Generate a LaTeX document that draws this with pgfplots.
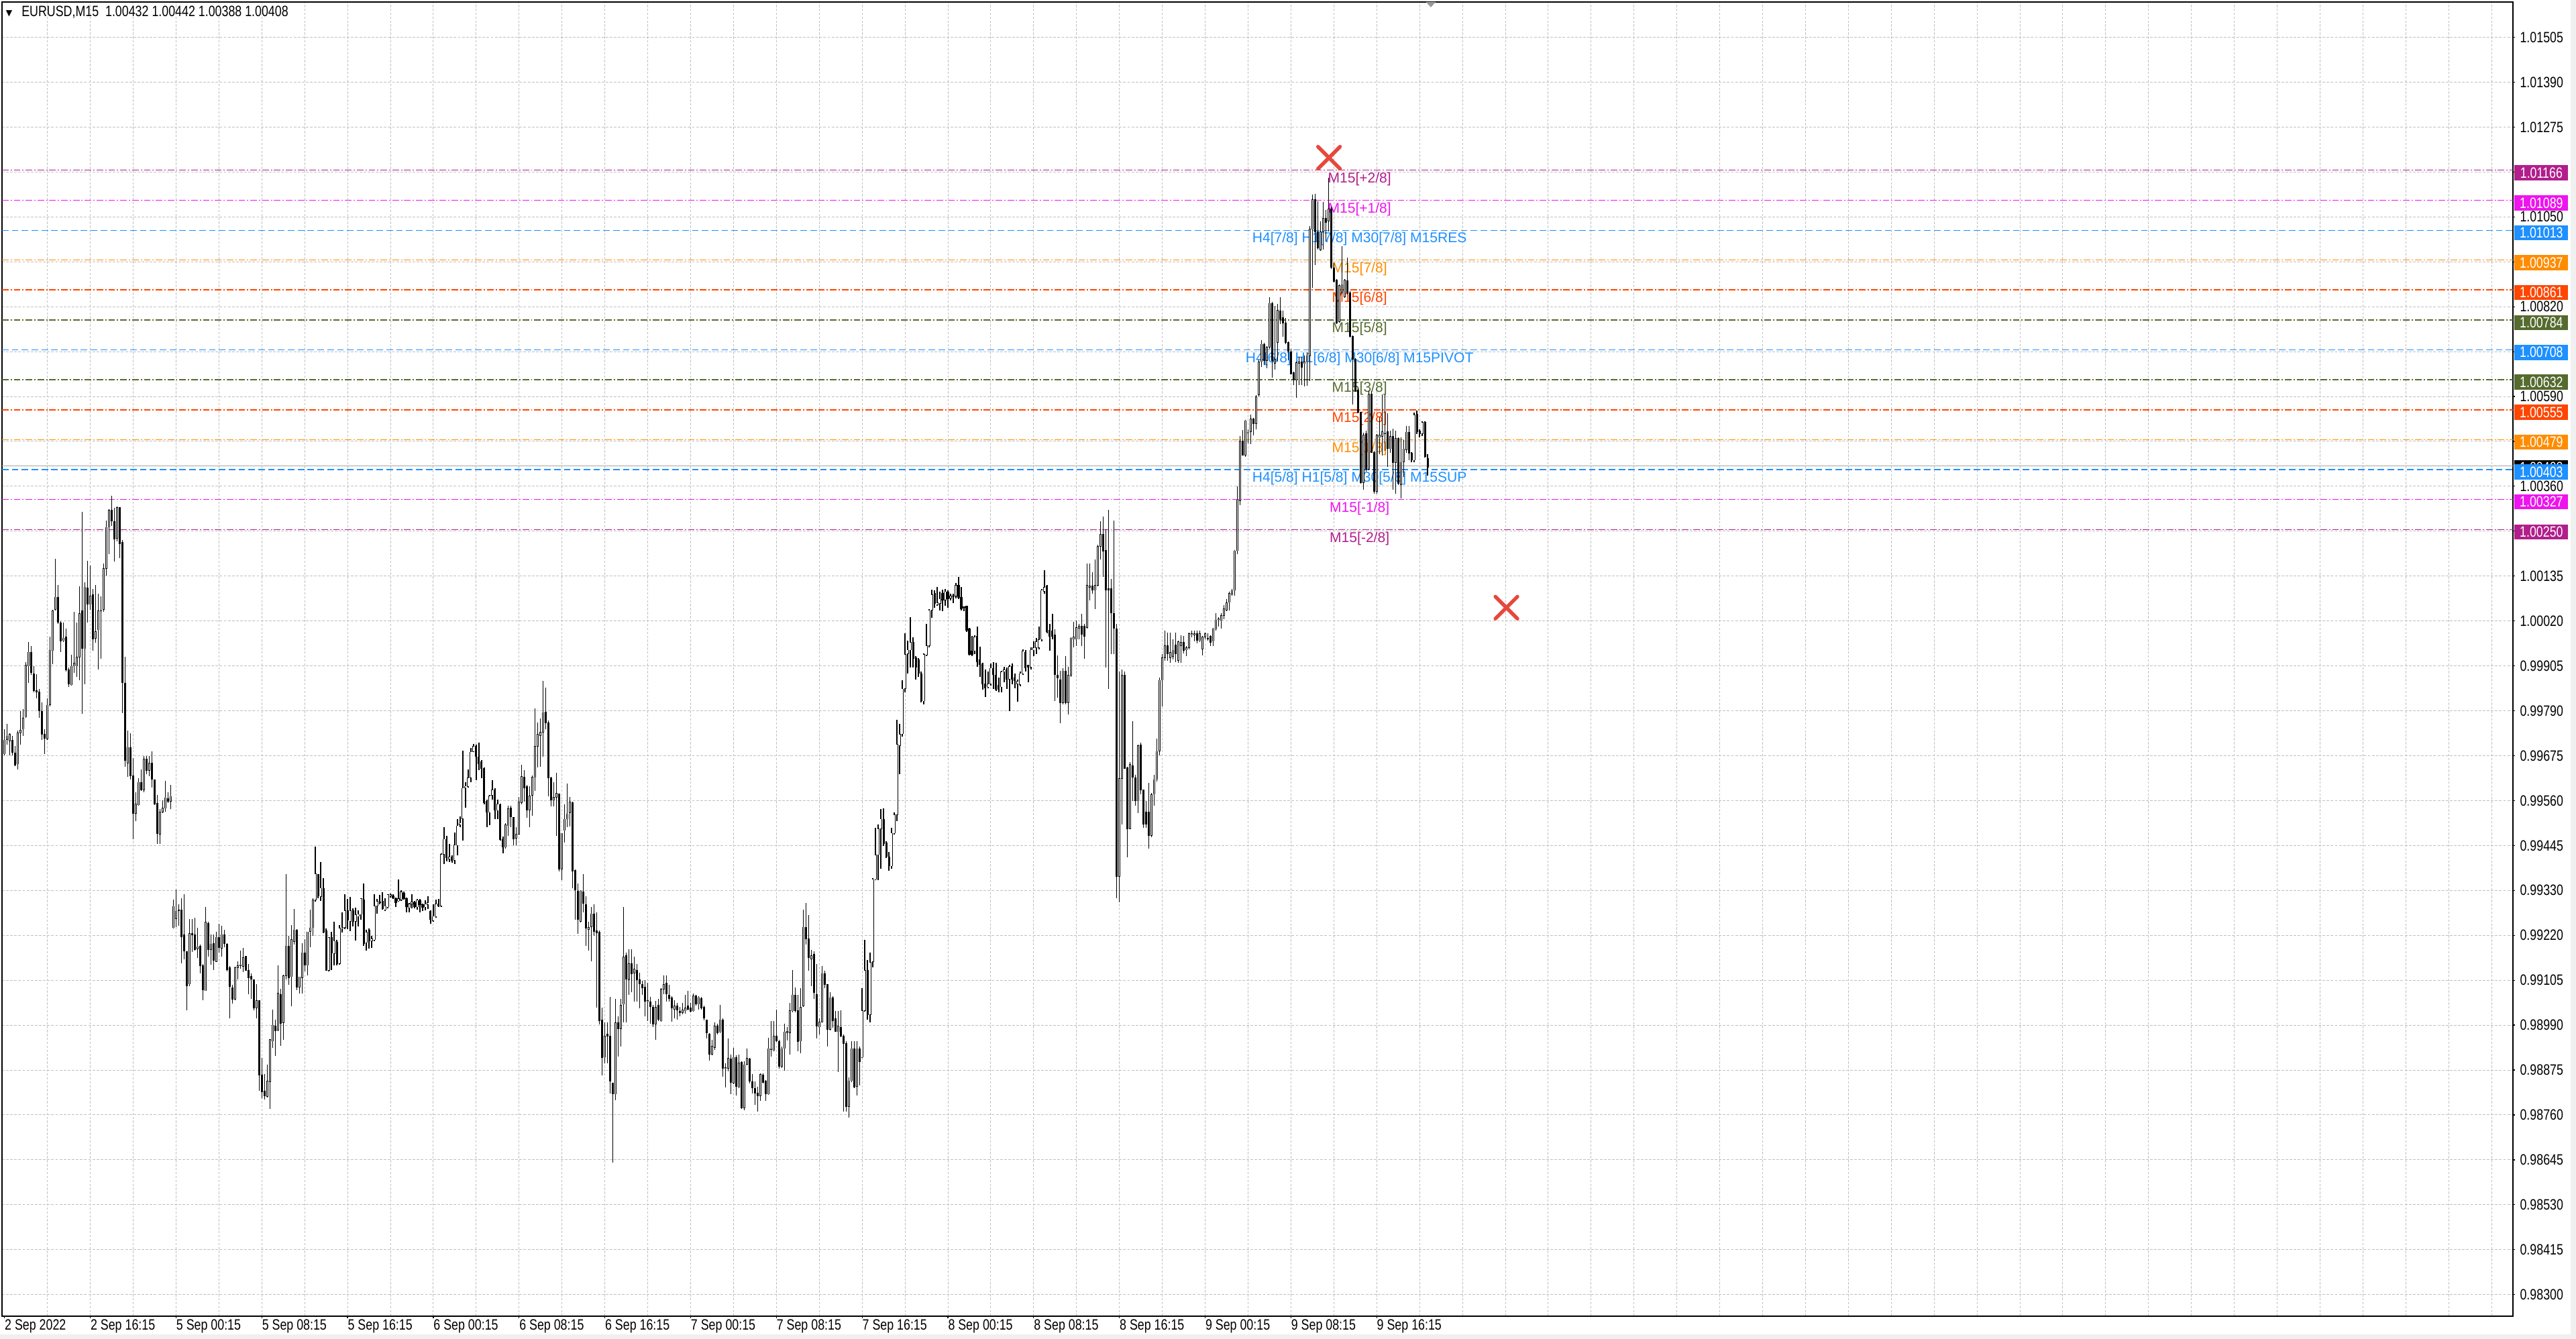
\documentclass[border=0pt]{standalone}
\usepackage{fontspec}
\setmainfont{Liberation Sans}
\newfontfamily\tickfont[FakeStretch=0.8]{Liberation Sans}
\newfontfamily\dejavu{DejaVu Sans}
\usepackage{pgfplots}
\pgfplotsset{compat=1.18}
\usepackage{pgfplotstable}

\definecolor{lvPurple}{RGB}{178,30,140}
\definecolor{lvMagenta}{RGB}{238,20,238}
\definecolor{lvBlue}{RGB}{30,144,255}
\definecolor{lvOrange}{RGB}{255,140,0}
\definecolor{lvRed}{RGB}{255,69,0}
\definecolor{lvOlive}{RGB}{85,107,47}
\definecolor{xred}{RGB}{230,72,60}
\definecolor{gridgray}{RGB}{192,192,192}

\pgfplotstableread{
o h l c
0.99678 0.99741 0.99675 0.99714
0.99714 0.99754 0.99701 0.99724
0.99711 0.99731 0.99675 0.99728
0.99714 0.99724 0.99675 0.99681
0.99681 0.99698 0.99647 0.99649
0.99652 0.99737 0.99639 0.99732
0.99732 0.99787 0.99701 0.99739
0.99741 0.99793 0.99724 0.99770
0.99772 0.99912 0.99770 0.99905
0.99902 0.99964 0.99859 0.99938
0.99937 0.99954 0.99879 0.99885
0.99882 0.99902 0.99836 0.99839
0.99839 0.99882 0.99820 0.99836
0.99837 0.99843 0.99770 0.99787
0.99787 0.99810 0.99714 0.99728
0.99728 0.99741 0.99678 0.99718
0.99716 0.99820 0.99714 0.99803
0.99804 0.99977 0.99800 0.99943
0.99941 1.00046 0.99907 1.00043
1.00046 1.00176 1.00043 1.00078
1.00077 1.00109 1.00010 1.00013
1.00013 1.00017 0.99938 0.99966
0.99967 1.00013 0.99964 0.99974
0.99977 0.99997 0.99889 0.99892
0.99892 0.99898 0.99849 0.99856
0.99854 0.99931 0.99852 0.99902
0.99902 1.00040 0.99885 0.99910
0.99902 1.00013 0.99875 0.99925
0.99925 1.00105 0.99866 1.00036
1.00043 1.00296 0.99780 0.99946
0.99946 1.00115 0.99856 1.00104
1.00102 1.00171 1.00013 1.00059
1.00059 1.00158 1.00046 1.00081
1.00084 1.00099 0.99941 0.99971
0.99973 1.00109 0.99961 0.99990
0.99994 1.00086 0.99894 1.00043
1.00043 1.00079 0.99921 1.00044
1.00046 1.00164 1.00040 1.00151
1.00151 1.00273 1.00133 1.00256
1.00256 1.00302 1.00187 1.00299
1.00299 1.00337 1.00260 1.00271
1.00271 1.00306 1.00168 1.00225
1.00227 1.00309 1.00220 1.00306
1.00306 1.00306 1.00178 1.00214
1.00217 1.00224 0.99783 0.99859
0.99859 0.99925 0.99645 0.99662
0.99655 0.99737 0.99619 0.99695
0.99695 0.99731 0.99613 0.99622
0.99622 0.99668 0.99461 0.99527
0.99527 0.99580 0.99507 0.99550
0.99548 0.99616 0.99547 0.99606
0.99606 0.99639 0.99583 0.99586
0.99586 0.99672 0.99580 0.99665
0.99665 0.99672 0.99626 0.99636
0.99636 0.99672 0.99622 0.99655
0.99655 0.99685 0.99593 0.99613
0.99613 0.99613 0.99548 0.99550
0.99553 0.99573 0.99448 0.99475
0.99473 0.99537 0.99448 0.99530
0.99530 0.99560 0.99527 0.99540
0.99539 0.99609 0.99530 0.99567
0.99565 0.99580 0.99553 0.99557
0.99557 0.99599 0.99537 0.99570
0.99235 0.99306 0.99234 0.99290
0.99258 0.99332 0.99237 0.99278
0.99281 0.99294 0.99240 0.99279
0.99281 0.99311 0.99145 0.99212
0.99218 0.99320 0.99154 0.99176
0.99175 0.99175 0.99024 0.99087
0.99091 0.99258 0.99087 0.99221
0.99221 0.99258 0.99173 0.99217
0.99217 0.99261 0.99176 0.99179
0.99181 0.99235 0.99158 0.99187
0.99189 0.99192 0.99118 0.99138
0.99139 0.99143 0.99051 0.99076
0.99074 0.99288 0.99074 0.99250
0.99247 0.99251 0.99162 0.99179
0.99179 0.99218 0.99141 0.99194
0.99195 0.99218 0.99127 0.99152
0.99149 0.99225 0.99148 0.99211
0.99211 0.99245 0.99171 0.99185
0.99183 0.99240 0.99162 0.99218
0.99217 0.99229 0.99185 0.99194
0.99194 0.99196 0.99123 0.99127
0.99133 0.99137 0.99004 0.99085
0.99083 0.99089 0.99041 0.99053
0.99053 0.99135 0.99051 0.99133
0.99133 0.99150 0.99104 0.99138
0.99138 0.99176 0.99131 0.99141
0.99137 0.99183 0.99122 0.99159
0.99162 0.99162 0.99125 0.99126
0.99127 0.99142 0.99066 0.99108
0.99111 0.99118 0.99053 0.99103
0.99102 0.99102 0.99024 0.99030
0.99030 0.99091 0.99004 0.99050
0.99049 0.99050 0.98819 0.98860
0.98860 0.98903 0.98800 0.98817
0.98819 0.98863 0.98797 0.98807
0.98805 0.98886 0.98803 0.98844
0.98842 0.98950 0.98774 0.98950
0.98946 0.99027 0.98928 0.98987
0.98985 0.99001 0.98909 0.98972
0.98974 0.99139 0.98972 0.99068
0.99066 0.99079 0.98934 0.98991
0.98993 0.99115 0.98949 0.99113
0.99112 0.99372 0.99103 0.99189
0.99188 0.99214 0.99090 0.99108
0.99110 0.99242 0.99035 0.99205
0.99200 0.99283 0.99192 0.99230
0.99229 0.99231 0.99076 0.99084
0.99084 0.99110 0.99067 0.99110
0.99108 0.99196 0.99067 0.99172
0.99171 0.99206 0.99123 0.99139
0.99139 0.99225 0.99113 0.99225
0.99225 0.99281 0.99185 0.99235
0.99235 0.99311 0.99215 0.99306
0.99306 0.99442 0.99302 0.99373
0.99372 0.99372 0.99310 0.99315
0.99314 0.99403 0.99304 0.99336
0.99335 0.99361 0.99221 0.99224
0.99227 0.99234 0.99125 0.99126
0.99126 0.99210 0.99123 0.99210
0.99210 0.99224 0.99128 0.99171
0.99169 0.99251 0.99140 0.99201
0.99199 0.99204 0.99140 0.99143
0.99143 0.99242 0.99141 0.99234
0.99233 0.99275 0.99223 0.99236
0.99236 0.99321 0.99232 0.99279
0.99279 0.99309 0.99232 0.99254
0.99251 0.99314 0.99227 0.99279
0.99279 0.99284 0.99238 0.99251
0.99251 0.99286 0.99202 0.99268
0.99264 0.99279 0.99238 0.99269
0.99269 0.99311 0.99256 0.99309
0.99306 0.99348 0.99189 0.99195
0.99197 0.99229 0.99177 0.99224
0.99230 0.99234 0.99182 0.99202
0.99202 0.99214 0.99184 0.99207
0.99204 0.99320 0.99201 0.99291
0.99290 0.99309 0.99271 0.99303
0.99301 0.99318 0.99294 0.99299
0.99303 0.99326 0.99281 0.99284
0.99281 0.99311 0.99277 0.99290
0.99288 0.99321 0.99284 0.99320
0.99316 0.99323 0.99312 0.99320
0.99317 0.99321 0.99309 0.99311
0.99309 0.99312 0.99288 0.99299
0.99303 0.99358 0.99301 0.99310
0.99306 0.99331 0.99303 0.99326
0.99323 0.99327 0.99306 0.99309
0.99309 0.99312 0.99274 0.99288
0.99286 0.99299 0.99275 0.99296
0.99296 0.99321 0.99284 0.99301
0.99299 0.99303 0.99284 0.99288
0.99288 0.99309 0.99281 0.99305
0.99305 0.99309 0.99275 0.99294
0.99294 0.99296 0.99277 0.99286
0.99288 0.99305 0.99279 0.99295
0.99294 0.99316 0.99283 0.99299
0.99277 0.99279 0.99245 0.99256
0.99253 0.99294 0.99251 0.99264
0.99264 0.99306 0.99260 0.99296
0.99296 0.99309 0.99288 0.99290
0.99290 0.99425 0.99288 0.99422
0.99422 0.99491 0.99398 0.99461
0.99461 0.99470 0.99405 0.99413
0.99410 0.99448 0.99403 0.99415
0.99415 0.99420 0.99401 0.99407
0.99407 0.99477 0.99398 0.99446
0.99445 0.99512 0.99420 0.99495
0.99497 0.99519 0.99492 0.99502
0.99513 0.99686 0.99457 0.99591
0.99591 0.99606 0.99541 0.99596
0.99595 0.99638 0.99593 0.99617
0.99617 0.99693 0.99606 0.99683
0.99684 0.99703 0.99683 0.99698
0.99698 0.99701 0.99611 0.99671
0.99671 0.99707 0.99636 0.99653
0.99658 0.99662 0.99616 0.99640
0.99641 0.99643 0.99549 0.99554
0.99558 0.99561 0.99491 0.99529
0.99529 0.99574 0.99497 0.99571
0.99573 0.99611 0.99561 0.99586
0.99586 0.99591 0.99512 0.99535
0.99534 0.99561 0.99512 0.99550
0.99549 0.99552 0.99457 0.99460
0.99461 0.99468 0.99424 0.99440
0.99440 0.99502 0.99437 0.99497
0.99495 0.99547 0.99469 0.99539
0.99541 0.99547 0.99492 0.99517
0.99517 0.99517 0.99445 0.99461
0.99463 0.99491 0.99445 0.99474
0.99474 0.99569 0.99472 0.99556
0.99554 0.99651 0.99549 0.99621
0.99619 0.99636 0.99556 0.99591
0.99595 0.99599 0.99515 0.99535
0.99535 0.99595 0.99492 0.99571
0.99573 0.99623 0.99521 0.99619
0.99618 0.99794 0.99584 0.99698
0.99697 0.99758 0.99644 0.99728
0.99725 0.99768 0.99646 0.99733
0.99733 0.99865 0.99671 0.99784
0.99785 0.99848 0.99741 0.99757
0.99757 0.99764 0.99570 0.99617
0.99617 0.99620 0.99544 0.99560
0.99560 0.99606 0.99544 0.99568
0.99568 0.99630 0.99470 0.99578
0.99576 0.99576 0.99379 0.99385
0.99385 0.99476 0.99357 0.99476
0.99483 0.99549 0.99452 0.99512
0.99512 0.99602 0.99492 0.99526
0.99528 0.99569 0.99494 0.99556
0.99554 0.99556 0.99335 0.99379
0.99381 0.99383 0.99256 0.99331
0.99329 0.99348 0.99219 0.99256
0.99251 0.99331 0.99249 0.99329
0.99327 0.99372 0.99275 0.99297
0.99294 0.99316 0.99189 0.99234
0.99230 0.99251 0.99177 0.99236
0.99237 0.99288 0.99149 0.99271
0.99271 0.99295 0.99215 0.99226
0.99228 0.99275 0.99031 0.99221
0.99224 0.99228 0.98989 0.98997
0.99001 0.99031 0.98858 0.98903
0.98905 0.98993 0.98890 0.98959
0.98965 0.98993 0.98890 0.98959
0.98959 0.99059 0.98813 0.98843
0.98839 0.98839 0.98636 0.98811
0.98811 0.99053 0.98796 0.98993
0.98993 0.99010 0.98907 0.98978
0.98978 0.99053 0.98933 0.99038
0.99040 0.99288 0.98993 0.99161
0.99164 0.99172 0.98993 0.99104
0.99102 0.99181 0.99064 0.99144
0.99143 0.99181 0.99070 0.99117
0.99119 0.99161 0.99047 0.99130
0.99127 0.99143 0.99047 0.99102
0.99102 0.99121 0.99030 0.99091
0.99091 0.99100 0.99064 0.99081
0.99084 0.99102 0.99010 0.99047
0.99047 0.99095 0.98997 0.99050
0.99047 0.99059 0.98990 0.99033
0.99033 0.99038 0.98982 0.98989
0.98989 0.99049 0.98950 0.99033
0.99038 0.99053 0.98997 0.99001
0.98997 0.99081 0.98995 0.99078
0.99078 0.99113 0.99066 0.99091
0.99095 0.99113 0.99047 0.99067
0.99064 0.99089 0.99047 0.99055
0.99057 0.99061 0.98995 0.99030
0.99027 0.99050 0.99004 0.99036
0.99036 0.99044 0.99001 0.99025
0.99023 0.99033 0.99010 0.99019
0.99019 0.99044 0.99014 0.99025
0.99023 0.99064 0.99016 0.99031
0.99036 0.99074 0.99025 0.99027
0.99031 0.99044 0.99019 0.99021
0.99023 0.99067 0.99021 0.99061
0.99061 0.99064 0.99036 0.99040
0.99040 0.99061 0.99027 0.99057
0.99055 0.99059 0.99027 0.99030
0.99033 0.99036 0.98999 0.99004
0.99001 0.99001 0.98953 0.98967
0.98965 0.98967 0.98896 0.98913
0.98913 0.98950 0.98910 0.98933
0.98930 0.98993 0.98924 0.98984
0.98984 0.98990 0.98963 0.98967
0.98970 0.99038 0.98967 0.99001
0.99001 0.99004 0.98856 0.98876
0.98876 0.98890 0.98828 0.98879
0.98876 0.98953 0.98869 0.98903
0.98901 0.98911 0.98811 0.98841
0.98839 0.98929 0.98836 0.98905
0.98905 0.98910 0.98807 0.98830
0.98828 0.98911 0.98826 0.98890
0.98893 0.98894 0.98773 0.98776
0.98776 0.98894 0.98770 0.98886
0.98887 0.98927 0.98884 0.98903
0.98901 0.98903 0.98839 0.98843
0.98843 0.98862 0.98813 0.98826
0.98826 0.98843 0.98783 0.98813
0.98813 0.98830 0.98766 0.98807
0.98807 0.98864 0.98793 0.98862
0.98860 0.98864 0.98839 0.98841
0.98845 0.98847 0.98793 0.98811
0.98811 0.98954 0.98809 0.98927
0.98924 0.98997 0.98907 0.98927
0.98922 0.98997 0.98920 0.98959
0.98959 0.99027 0.98944 0.98947
0.98946 0.98950 0.98876 0.98882
0.98882 0.98933 0.98877 0.98927
0.98927 0.98990 0.98870 0.98970
0.98967 0.98982 0.98947 0.98971
0.98967 0.99044 0.98911 0.99024
0.99023 0.99127 0.99019 0.99064
0.99064 0.99083 0.99019 0.99023
0.99024 0.99064 0.98920 0.98944
0.98946 0.99081 0.98916 0.99033
0.99036 0.99281 0.99033 0.99237
0.99237 0.99298 0.99192 0.99207
0.99207 0.99267 0.99125 0.99158
0.99155 0.99178 0.99087 0.99164
0.99167 0.99175 0.99053 0.99070
0.99066 0.99143 0.98953 0.98984
0.98982 0.99004 0.98963 0.98995
0.98995 0.99138 0.98993 0.99119
0.99119 0.99125 0.99081 0.99090
0.99090 0.99091 0.98933 0.98976
0.98976 0.99070 0.98973 0.99057
0.99057 0.99061 0.98980 0.98997
0.99004 0.99023 0.98970 0.98970
0.98970 0.99023 0.98867 0.98984
0.98982 0.99024 0.98956 0.98959
0.98959 0.98963 0.98766 0.98939
0.98941 0.98946 0.98766 0.98779
0.98779 0.98853 0.98751 0.98845
0.98845 0.98946 0.98841 0.98927
0.98927 0.98946 0.98826 0.98828
0.98830 0.98946 0.98807 0.98927
0.98927 0.98933 0.98833 0.98894
0.98905 0.99081 0.98903 0.99024
0.99024 0.99204 0.99021 0.99127
0.99127 0.99153 0.99001 0.99013
0.99013 0.99172 0.98993 0.99147
0.99149 0.99361 0.99134 0.99358
0.99358 0.99489 0.99356 0.99421
0.99421 0.99498 0.99356 0.99487
0.99487 0.99538 0.99386 0.99512
0.99512 0.99540 0.99444 0.99449
0.99451 0.99455 0.99412 0.99416
0.99416 0.99429 0.99380 0.99392
0.99392 0.99489 0.99386 0.99476
0.99476 0.99529 0.99472 0.99523
0.99523 0.99765 0.99506 0.99703
0.99699 0.99754 0.99626 0.99729
0.99729 0.99866 0.99723 0.99844
0.99844 0.99985 0.99835 0.99932
0.99934 0.99967 0.99883 0.99943
0.99943 1.00026 0.99899 0.99963
0.99963 0.99976 0.99899 0.99921
0.99923 0.99927 0.99868 0.99899
0.99919 0.99923 0.99875 0.99883
0.99883 0.99888 0.99809 0.99813
0.99813 0.99934 0.99805 0.99932
0.99930 1.00009 0.99927 0.99954
0.99954 1.00048 0.99949 1.00044
1.00044 1.00097 1.00025 1.00084
1.00088 1.00095 1.00051 1.00062
1.00058 1.00103 1.00055 1.00064
1.00062 1.00092 1.00044 1.00073
1.00088 1.00097 1.00042 1.00070
1.00070 1.00099 1.00055 1.00092
1.00092 1.00095 1.00051 1.00073
1.00075 1.00086 1.00070 1.00081
1.00080 1.00086 1.00062 1.00081
1.00081 1.00114 1.00075 1.00108
1.00108 1.00130 1.00073 1.00077
1.00077 1.00103 1.00044 1.00048
1.00053 1.00053 1.00042 1.00051
1.00055 1.00055 0.99989 0.99993
0.99998 1.00000 0.99930 0.99932
0.99941 0.99978 0.99927 0.99932
0.99941 0.99981 0.99932 0.99976
0.99978 1.00003 0.99901 0.99912
0.99919 0.99952 0.99875 0.99905
0.99908 0.99910 0.99842 0.99857
0.99857 0.99893 0.99824 0.99846
0.99849 0.99888 0.99846 0.99857
0.99857 0.99908 0.99853 0.99897
0.99897 0.99912 0.99844 0.99880
0.99880 0.99910 0.99838 0.99842
0.99853 0.99872 0.99835 0.99842
0.99849 0.99890 0.99835 0.99888
0.99888 0.99901 0.99861 0.99893
0.99893 0.99899 0.99844 0.99868
0.99868 0.99905 0.99787 0.99901
0.99901 0.99908 0.99855 0.99868
0.99872 0.99883 0.99846 0.99864
0.99857 0.99868 0.99811 0.99864
0.99855 0.99888 0.99850 0.99883
0.99883 0.99945 0.99880 0.99941
0.99937 0.99943 0.99888 0.99897
0.99905 0.99905 0.99861 0.99899
0.99899 0.99949 0.99893 0.99943
0.99943 0.99965 0.99927 0.99949
0.99949 0.99974 0.99932 0.99965
0.99949 1.00003 0.99945 0.99970
0.99970 1.00099 0.99965 1.00095
1.00092 1.00147 1.00086 1.00103
1.00106 1.00108 0.99985 0.99989
0.99993 1.00009 0.99941 0.99978
0.99992 1.00036 0.99970 0.99978
0.99981 0.99996 0.99813 0.99880
0.99880 0.99930 0.99822 0.99872
0.99868 0.99890 0.99756 0.99809
0.99809 0.99897 0.99805 0.99890
0.99890 0.99927 0.99805 0.99809
0.99809 0.99901 0.99778 0.99879
0.99879 0.99976 0.99875 0.99974
0.99970 1.00015 0.99949 0.99976
0.99970 1.00018 0.99954 1.00000
0.99998 1.00009 0.99970 1.00004
1.00004 1.00036 0.99954 0.99982
1.00004 1.00009 0.99921 0.99978
1.00000 1.00163 0.99998 1.00108
1.00103 1.00163 1.00070 1.00106
1.00106 1.00141 1.00086 1.00095
1.00095 1.00174 1.00048 1.00108
1.00108 1.00212 1.00106 1.00207
1.00207 1.00271 1.00174 1.00238
1.00238 1.00284 1.00130 1.00194
1.00198 1.00251 0.99899 1.00095
1.00099 1.00301 0.99844 1.00095
1.00099 1.00125 0.99932 1.00037
1.00037 1.00273 0.99932 0.99998
0.99998 1.00009 0.99311 0.99366
0.99366 0.99888 0.99300 0.99615
0.99615 0.99894 0.99498 0.99879
0.99879 0.99888 0.99641 0.99641
0.99644 0.99646 0.99415 0.99487
0.99487 0.99657 0.99487 0.99652
0.99648 0.99762 0.99558 0.99618
0.99618 0.99624 0.99547 0.99558
0.99558 0.99701 0.99527 0.99699
0.99701 0.99707 0.99575 0.99586
0.99586 0.99586 0.99490 0.99498
0.99530 0.99558 0.99490 0.99498
0.99530 0.99604 0.99437 0.99470
0.99470 0.99578 0.99465 0.99575
0.99575 0.99624 0.99547 0.99613
0.99613 0.99718 0.99608 0.99685
0.99685 0.99872 0.99674 0.99866
0.99866 0.99932 0.99800 0.99923
0.99923 0.99993 0.99916 0.99954
0.99954 0.99987 0.99916 0.99934
0.99923 0.99987 0.99910 0.99937
0.99927 0.99970 0.99919 0.99943
0.99956 0.99987 0.99912 0.99934
0.99916 0.99967 0.99910 0.99965
0.99954 0.99981 0.99910 0.99963
0.99963 0.99978 0.99934 0.99941
0.99943 0.99954 0.99927 0.99949
0.99949 0.99987 0.99945 0.99985
0.99983 0.99993 0.99976 0.99985
0.99981 0.99993 0.99965 0.99985
0.99985 0.99993 0.99960 0.99967
0.99967 0.99993 0.99963 0.99985
0.99945 0.99978 0.99930 0.99976
0.99976 0.99987 0.99970 0.99985
0.99974 0.99985 0.99967 0.99970
0.99978 0.99981 0.99954 0.99963
0.99965 1.00000 0.99954 0.99998
0.99996 1.00037 0.99993 1.00020
1.00020 1.00026 1.00003 1.00022
1.00018 1.00037 0.99998 1.00031
1.00031 1.00058 1.00022 1.00048
1.00044 1.00073 1.00042 1.00064
1.00064 1.00092 1.00044 1.00088
1.00086 1.00099 1.00081 1.00095
1.00095 1.00198 1.00081 1.00196
1.00196 1.00361 1.00187 1.00326
1.00323 1.00488 1.00312 1.00476
1.00476 1.00504 1.00438 1.00440
1.00440 1.00530 1.00436 1.00528
1.00495 1.00506 1.00470 1.00499
1.00499 1.00543 1.00468 1.00532
1.00532 1.00534 1.00491 1.00520
1.00520 1.00592 1.00505 1.00589
1.00594 1.00684 1.00589 1.00678
1.00678 1.00733 1.00664 1.00723
1.00722 1.00726 1.00670 1.00681
1.00681 1.00717 1.00661 1.00715
1.00715 1.00842 1.00710 1.00827
1.00826 1.00830 1.00638 1.00681
1.00674 1.00820 1.00658 1.00684
1.00727 1.00826 1.00678 1.00809
1.00807 1.00842 1.00774 1.00786
1.00791 1.00808 1.00742 1.00777
1.00777 1.00790 1.00722 1.00727
1.00727 1.00730 1.00681 1.00704
1.00704 1.00710 1.00646 1.00647
1.00650 1.00652 1.00618 1.00632
1.00632 1.00678 1.00586 1.00676
1.00674 1.00690 1.00618 1.00677
1.00677 1.00690 1.00618 1.00664
1.00673 1.00694 1.00615 1.00678
1.00678 1.00703 1.00617 1.00694
1.00693 1.01023 1.00629 1.01016
1.01015 1.01104 1.00866 1.01091
1.01091 1.01106 1.00924 1.01008
1.01009 1.01087 1.00964 1.00967
1.00963 1.01036 1.00961 1.01009
1.01009 1.01085 1.00964 1.01044
1.01044 1.01065 1.00984 1.01033
1.01036 1.01146 1.01010 1.01068
1.01068 1.01074 1.00915 1.00918
1.00918 1.00930 1.00880 1.00883
1.00886 1.00889 1.00774 1.00777
1.00780 1.00875 1.00777 1.00873
1.00855 1.00973 1.00849 1.00875
1.00843 1.00889 1.00840 1.00886
1.00884 1.00944 1.00849 1.00854
1.00854 1.00857 1.00739 1.00742
1.00742 1.00745 1.00569 1.00684
1.00684 1.00687 1.00601 1.00603
1.00606 1.00609 1.00546 1.00549
1.00549 1.00549 1.00367 1.00370
1.00370 1.00497 1.00352 1.00491
1.00494 1.00502 1.00398 1.00404
1.00404 1.00603 1.00401 1.00595
1.00595 1.00603 1.00445 1.00447
1.00447 1.00450 1.00341 1.00347
1.00347 1.00494 1.00341 1.00491
1.00485 1.00537 1.00442 1.00491
1.00488 1.00595 1.00439 1.00500
1.00494 1.00595 1.00450 1.00497
1.00500 1.00546 1.00410 1.00456
1.00456 1.00502 1.00445 1.00488
1.00488 1.00508 1.00352 1.00421
1.00421 1.00502 1.00341 1.00482
1.00482 1.00485 1.00364 1.00367
1.00364 1.00485 1.00329 1.00422
1.00422 1.00479 1.00384 1.00456
1.00453 1.00514 1.00445 1.00499
1.00499 1.00514 1.00427 1.00445
1.00445 1.00447 1.00421 1.00427
1.00427 1.00548 1.00421 1.00543
1.00544 1.00554 1.00494 1.00499
1.00501 1.00505 1.00485 1.00494
1.00494 1.00526 1.00488 1.00523
1.00523 1.00526 1.00433 1.00436
1.00432 1.00442 1.00388 1.00408
}\bars

\tikzset{
  m15lvl/.style={line width=0.55pt, dash pattern=on 4pt off 1.2pt on 0.8pt off 1.2pt},
  bluelvl/.style={line width=0.6pt, dash pattern=on 4pt off 2pt, lvBlue},
  lvlbox/.style={anchor=west, text=white, inner sep=0pt, minimum width=32.6pt, minimum height=9.2pt,
     font=\tickfont\fontsize{9.1}{10}\selectfont, xshift=0.8pt, yshift=-1.5pt},
  lvltext/.style={anchor=north, inner sep=0pt, yshift=-1.2pt, font=\fontsize{8.6}{10}\selectfont},
}
\pgfplotsset{
  candlepart/.style={draw=none, no markers, forget plot,
    error bars/.cd, y dir=plus, y explicit, error mark=none},
}

\begin{document}
\begin{tikzpicture}[x=1pt,y=1pt]
\path[use as bounding box] (0,0) rectangle (1568,815);
\fill[white] (0,0) rectangle (1568,815);
\fill[black!6] (0,0) rectangle (1568,3);
\fill[black!6] (1564.8,0) rectangle (1568,815);
\begin{axis}[
  at={(1.2pt,13.9pt)}, anchor=south west,
  scale only axis, width=1528.4pt, height=799.9pt,
  xmin=-0.95, xmax=935.97, ymin=0.98245, ymax=1.01595,
  clip=false,
  axis line style={black, line width=0.8pt},
  xtick pos=bottom, ytick pos=right, yticklabel pos=right,
  tick align=outside, major tick length=1.4pt,
  tick style={black, line width=0.5pt},
  minor tick length=0pt,
  xtick={0,32,...,512},
  xticklabels={2 Sep 2022,2 Sep 16:15,5 Sep 00:15,5 Sep 08:15,5 Sep 16:15,6 Sep 00:15,6 Sep 08:15,6 Sep 16:15,7 Sep 00:15,7 Sep 08:15,7 Sep 16:15,8 Sep 00:15,8 Sep 08:15,8 Sep 16:15,9 Sep 00:15,9 Sep 08:15,9 Sep 16:15},
  minor xtick={16,32,...,928},
  ytick={0.983000,0.984145,0.985289,0.986434,0.987579,0.988723,0.989868,0.991012,0.992157,0.993302,0.994446,0.995591,0.996736,0.997880,0.999025,1.000170,1.001314,1.002459,1.003604,1.004748,1.005893,1.007037,1.008182,1.009327,1.010471,1.011616,1.012761,1.013905,1.015050},
  yticklabels={0.98300,0.98415,0.98530,0.98645,0.98760,0.98875,0.98990,0.99105,0.99220,0.99330,0.99445,0.99560,0.99675,0.99790,0.99905,1.00020,1.00135,{},1.00360,{},1.00590,{},1.00820,{},1.01050,{},1.01275,1.01390,1.01505},
  xmajorgrids=false, xminorgrids=true, ymajorgrids=true,
  major grid style={gridgray, line width=0.4pt, dash pattern=on 1.6pt off 0.9pt},
  minor grid style={gridgray, line width=0.4pt, dash pattern=on 1.4pt off 1.0pt},
  yticklabel style={font=\tickfont\fontsize{9.1}{10}\selectfont, anchor=west, inner sep=0pt, xshift=2.7pt},
  xticklabel style={font=\tickfont\fontsize{9.1}{10}\selectfont, anchor=north west, inner sep=0pt, yshift=-0.5pt},
]
% level lines
\addplot[m15lvl, lvPurple] coordinates {(-0.95,1.01166) (935.97,1.01166)};
\addplot[m15lvl, lvMagenta] coordinates {(-0.95,1.01089) (935.97,1.01089)};
\addplot[bluelvl] coordinates {(-0.95,1.01013) (935.97,1.01013)};
\addplot[m15lvl, lvOrange] coordinates {(-0.95,1.00937) (935.97,1.00937)};
\addplot[m15lvl, lvRed] coordinates {(-0.95,1.00861) (935.97,1.00861)};
\addplot[m15lvl, lvOlive] coordinates {(-0.95,1.00784) (935.97,1.00784)};
\addplot[bluelvl] coordinates {(-0.95,1.00708) (935.97,1.00708)};
\addplot[m15lvl, lvOlive] coordinates {(-0.95,1.00632) (935.97,1.00632)};
\addplot[m15lvl, lvRed] coordinates {(-0.95,1.00555) (935.97,1.00555)};
\addplot[m15lvl, lvOrange] coordinates {(-0.95,1.00479) (935.97,1.00479)};
\addplot[line width=0.4pt, black!35] coordinates {(-0.95,1.00412) (935.97,1.00412)};
\addplot[bluelvl] coordinates {(-0.95,1.00403) (935.97,1.00403)};
\addplot[m15lvl, lvMagenta] coordinates {(-0.95,1.00327) (935.97,1.00327)};
\addplot[m15lvl, lvPurple] coordinates {(-0.95,1.00250) (935.97,1.00250)};

% level texts
\node[lvltext, text=lvPurple] at (axis cs:505.6,1.01166) {M15[+2/8]};
\node[lvltext, text=lvMagenta] at (axis cs:505.6,1.01089) {M15[+1/8]};
\node[lvltext, text=lvBlue] at (axis cs:505.6,1.01013) {H4[7/8] H1[7/8] M30[7/8] M15RES};
\node[lvltext, text=lvOrange] at (axis cs:505.6,1.00937) {M15[7/8]};
\node[lvltext, text=lvRed] at (axis cs:505.6,1.00861) {M15[6/8]};
\node[lvltext, text=lvOlive] at (axis cs:505.6,1.00784) {M15[5/8]};
\node[lvltext, text=lvBlue] at (axis cs:505.6,1.00708) {H4[6/8] H1[6/8] M30[6/8] M15PIVOT};
\node[lvltext, text=lvOlive] at (axis cs:505.6,1.00632) {M15[3/8]};
\node[lvltext, text=lvRed] at (axis cs:505.6,1.00555) {M15[2/8]};
\node[lvltext, text=lvOrange] at (axis cs:505.6,1.00479) {M15[1/8]};
\node[lvltext, text=lvBlue] at (axis cs:505.6,1.00403) {H4[5/8] H1[5/8] M30[5/8] M15SUP};
\node[lvltext, text=lvMagenta] at (axis cs:505.6,1.00327) {M15[-1/8]};
\node[lvltext, text=lvPurple] at (axis cs:505.6,1.00250) {M15[-2/8]};

% candles: wicks, bodies, white fill of rising bars
\addplot[candlepart, error bar style={draw=black, line width=0.55pt}]
  table[x expr=\coordindex, y=l, y error expr=\thisrow{h}-\thisrow{l}] {\bars};
\addplot[candlepart, error bar style={draw=black, line width=1.25pt}]
  table[x expr=\coordindex, y expr={min(\thisrow{o},\thisrow{c})-0.000005},
        y error expr={abs(\thisrow{c}-\thisrow{o})+0.000010}] {\bars};
\addplot[candlepart, error bar style={draw=white, line width=0.55pt}]
  table[x expr=\coordindex, y expr={\thisrow{o}+0.000007},
        y error expr={max(\thisrow{c}-\thisrow{o}-0.000014,0)}] {\bars};

% red crosses
\addplot[only marks, mark=x, mark size=9.5pt,
  mark options={draw=xred, line width=2.2pt, line cap=round}]
  coordinates {(494.2,1.01198) (560.4,1.00051)};

% price boxes on the right
\node[lvlbox, fill=lvPurple] at (axis cs:935.97,1.01166) {1.01166};
\node[lvlbox, fill=lvMagenta] at (axis cs:935.97,1.01089) {1.01089};
\node[lvlbox, fill=lvBlue] at (axis cs:935.97,1.01013) {1.01013};
\node[lvlbox, fill=lvOrange] at (axis cs:935.97,1.00937) {1.00937};
\node[lvlbox, fill=lvRed] at (axis cs:935.97,1.00861) {1.00861};
\node[lvlbox, fill=lvOlive] at (axis cs:935.97,1.00784) {1.00784};
\node[lvlbox, fill=lvBlue] at (axis cs:935.97,1.00708) {1.00708};
\node[lvlbox, fill=lvOlive] at (axis cs:935.97,1.00632) {1.00632};
\node[lvlbox, fill=lvRed] at (axis cs:935.97,1.00555) {1.00555};
\node[lvlbox, fill=lvOrange] at (axis cs:935.97,1.00479) {1.00479};
\node[lvlbox, fill=black, yshift=1.5pt] at (axis cs:935.97,1.00408) {1.00408};
\node[lvlbox, fill=lvBlue] at (axis cs:935.97,1.00403) {1.00403};
\node[lvlbox, fill=lvMagenta] at (axis cs:935.97,1.00327) {1.00327};
\node[lvlbox, fill=lvPurple] at (axis cs:935.97,1.00250) {1.00250};

% chart shift marker
\fill[black!40] (axis cs:532.2,1.01595) ++(-3pt,0pt) -- ++(6pt,0pt) -- ++(-3pt,-3.2pt) -- cycle;

% header
\node[anchor=base west, inner sep=0pt] at (rel axis cs:0,1) [xshift=2.2pt, yshift=-8.4pt]
  {\dejavu\fontsize{5}{5}\selectfont ▼};
\node[anchor=base west, inner sep=0pt, font=\tickfont\fontsize{9.1}{10}\selectfont]
  at (rel axis cs:0,1) [xshift=11.8pt, yshift=-8.9pt]
  {EURUSD,M15\ \ 1.00432 1.00442 1.00388 1.00408};
\end{axis}
\end{tikzpicture}
\end{document}
